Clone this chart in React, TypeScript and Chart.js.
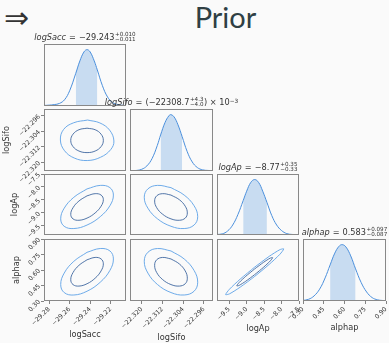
import React, { useEffect, useRef } from "react";
import { Chart, registerables } from "chart.js";

Chart.register(...registerables);

// ---------------- data ----------------
const PARAMS = ["logSacc", "logSifo", "logAp", "alphap"];
const RANGE_MIN = [-29.285, -22.3245, -9.85, 0.3];
const RANGE_MAX = [-29.205, -22.2925, -7.5, 0.9];

const TICK_VALUES = [
  [-29.28, -29.26, -29.24, -29.22],
  [-22.32, -22.312, -22.304, -22.296],
  [-9.5, -9.0, -8.5, -8.0, -7.5],
  [0.3, 0.45, 0.6, 0.75, 0.9],
];
const TICK_LABELS = [
  ["−29.28", "−29.26", "−29.24", "−29.22"],
  ["−22.320", "−22.312", "−22.304", "−22.296"],
  ["−9.5", "−9.0", "−8.5", "−8.0", "−7.5"],
  ["0.30", "0.45", "0.60", "0.75", "0.90"],
];

// 1D marginal curves (relative density, peak = 1)
const CURVE_X_SACC = [-29.285, -29.28, -29.275, -29.27, -29.265, -29.26, -29.254, -29.25, -29.246, -29.243, -29.24, -29.236, -29.233, -29.228, -29.223, -29.218, -29.213, -29.208, -29.205];
const CURVE_Y_SACC = [0.01, 0.015, 0.025, 0.045, 0.11, 0.27, 0.58, 0.8, 0.96, 1.0, 0.96, 0.8, 0.64, 0.36, 0.16, 0.06, 0.025, 0.012, 0.008];
const CURVE_X_SIFO = [-22.3245, -22.322, -22.32, -22.318, -22.316, -22.314, -22.3127, -22.311, -22.3095, -22.3087, -22.3075, -22.306, -22.3044, -22.3025, -22.3005, -22.2985, -22.2965, -22.2945, -22.2925];
const CURVE_Y_SIFO = [0.005, 0.01, 0.03, 0.09, 0.22, 0.45, 0.64, 0.86, 0.98, 1.0, 0.96, 0.82, 0.61, 0.35, 0.16, 0.06, 0.02, 0.01, 0.005];
const CURVE_X_AP = [-9.85, -9.7, -9.55, -9.4, -9.25, -9.1, -9.0, -8.88, -8.77, -8.66, -8.54, -8.42, -8.28, -8.14, -8.0, -7.85, -7.7, -7.5];
const CURVE_Y_AP = [0.01, 0.02, 0.07, 0.18, 0.37, 0.62, 0.79, 0.95, 1.0, 0.95, 0.79, 0.59, 0.35, 0.18, 0.08, 0.025, 0.01, 0.005];
const CURVE_X_ALPHA = [0.3, 0.34, 0.38, 0.42, 0.46, 0.496, 0.53, 0.56, 0.583, 0.61, 0.645, 0.68, 0.72, 0.76, 0.8, 0.84, 0.87, 0.9];
const CURVE_Y_ALPHA = [0.01, 0.03, 0.09, 0.21, 0.41, 0.64, 0.85, 0.97, 1.0, 0.96, 0.8, 0.57, 0.33, 0.16, 0.06, 0.02, 0.01, 0.005];

const CURVE_X = [CURVE_X_SACC, CURVE_X_SIFO, CURVE_X_AP, CURVE_X_ALPHA];
const CURVE_Y = [CURVE_Y_SACC, CURVE_Y_SIFO, CURVE_Y_AP, CURVE_Y_ALPHA];

// 16% / 84% quantiles
const Q_LO = [-29.254, -22.3127, -9.1, 0.496];
const Q_HI = [-29.233, -22.3044, -8.42, 0.68];

// titles
const TITLE_PRE = ["−", "(−", "−", ""];
const TITLE_MED = ["29.243", "22308.7", "8.77", "0.583"];
const TITLE_PLUS = ["+0.010", "+4.3", "+0.35", "+0.097"];
const TITLE_MINUS = ["−0.011", "−4.0", "−0.33", "−0.087"];
const TITLE_POST = ["", ") × 10", "", ""];
const TITLE_EXP = ["", "−3", "", ""];

// 2D contours [x, y]
const C_SIFO_SACC_INNER = [[-29.243, -22.3024], [-29.2509, -22.3032], [-29.2567, -22.3055], [-29.2589, -22.3087], [-29.2567, -22.3119], [-29.2509, -22.3142], [-29.243, -22.315], [-29.2351, -22.3142], [-29.2293, -22.3119], [-29.2271, -22.3087], [-29.2293, -22.3055], [-29.2351, -22.3032], [-29.243, -22.3024]];
const C_SIFO_SACC_OUTER = [[-29.2425, -22.2982], [-29.256, -22.2996], [-29.2658, -22.303], [-29.269, -22.3085], [-29.265, -22.314], [-29.2555, -22.3178], [-29.2428, -22.3191], [-29.2298, -22.3174], [-29.22, -22.3135], [-29.2168, -22.309], [-29.221, -22.3034], [-29.2305, -22.2997], [-29.2425, -22.2982]];

const C_AP_SACC_INNER = [[-29.243, -8.3413], [-29.2509, -8.5402], [-29.2567, -8.7999], [-29.2589, -9.0525], [-29.2567, -9.229], [-29.2509, -9.2824], [-29.243, -9.1987], [-29.2351, -8.9998], [-29.2293, -8.7401], [-29.2271, -8.4875], [-29.2293, -8.311], [-29.2351, -8.2576], [-29.243, -8.3413]];
const C_AP_SACC_OUTER = [[-29.243, -8.074], [-29.2559, -8.397], [-29.2653, -8.818], [-29.2687, -9.228], [-29.2653, -9.515], [-29.2559, -9.601], [-29.243, -9.466], [-29.2301, -9.143], [-29.2207, -8.722], [-29.2173, -8.312], [-29.2207, -8.025], [-29.2301, -7.939], [-29.243, -8.074]];

const C_ALPHA_SACC_INNER = [[-29.243, 0.699], [-29.2509, 0.6452], [-29.2567, 0.5749], [-29.2589, 0.5065], [-29.2567, 0.4588], [-29.2509, 0.4444], [-29.243, 0.467], [-29.2351, 0.5208], [-29.2293, 0.5911], [-29.2271, 0.6595], [-29.2293, 0.7072], [-29.2351, 0.7216], [-29.243, 0.699]];
const C_ALPHA_SACC_OUTER = [[-29.243, 0.7712], [-29.2559, 0.684], [-29.2653, 0.5699], [-29.2687, 0.459], [-29.2653, 0.3815], [-29.2559, 0.358], [-29.243, 0.3948], [-29.2301, 0.482], [-29.2207, 0.5961], [-29.2173, 0.707], [-29.2207, 0.7845], [-29.2301, 0.808], [-29.243, 0.7712]];

const C_AP_SIFO_INNER = [[-22.3087, -8.3117], [-22.3119, -8.2576], [-22.3142, -8.3406], [-22.315, -8.539], [-22.3142, -8.799], [-22.3119, -9.0514], [-22.3087, -9.2283], [-22.3055, -9.2824], [-22.3032, -9.1994], [-22.3024, -9.001], [-22.3032, -8.741], [-22.3055, -8.4886], [-22.3087, -8.3117]];
const C_AP_SIFO_OUTER = [[-22.3087, -8.0261], [-22.3139, -7.9387], [-22.3176, -8.0733], [-22.319, -8.3951], [-22.3176, -8.8171], [-22.3139, -9.2265], [-22.3087, -9.5139], [-22.3036, -9.6013], [-22.2998, -9.4667], [-22.2984, -9.1449], [-22.2998, -8.7229], [-22.3036, -8.3135], [-22.3087, -8.0261]];

const C_ALPHA_SIFO_INNER = [[-22.3087, 0.707], [-22.3119, 0.7216], [-22.3142, 0.6992], [-22.315, 0.6455], [-22.3142, 0.5752], [-22.3119, 0.5069], [-22.3087, 0.459], [-22.3055, 0.4444], [-22.3032, 0.4668], [-22.3024, 0.5205], [-22.3032, 0.5908], [-22.3055, 0.6591], [-22.3087, 0.707]];
const C_ALPHA_SIFO_OUTER = [[-22.3087, 0.7843], [-22.3139, 0.8079], [-22.3176, 0.7715], [-22.319, 0.6844], [-22.3176, 0.5703], [-22.3139, 0.4595], [-22.3087, 0.3817], [-22.3036, 0.3581], [-22.2998, 0.3945], [-22.2984, 0.4816], [-22.2998, 0.5957], [-22.3036, 0.7065], [-22.3087, 0.7843]];

const C_ALPHA_AP_INNER = [[-8.77, 0.6106], [-9.0267, 0.5388], [-9.2147, 0.4789], [-9.2834, 0.4468], [-9.2147, 0.4513], [-9.0267, 0.491], [-8.77, 0.5554], [-8.5133, 0.6272], [-8.3253, 0.6871], [-8.2566, 0.7192], [-8.3253, 0.7147], [-8.5133, 0.675], [-8.77, 0.6106]];
const C_ALPHA_AP_OUTER = [[-8.77, 0.6279], [-9.1865, 0.5113], [-9.4915, 0.4142], [-9.603, 0.3621], [-9.4915, 0.3693], [-9.1865, 0.4338], [-8.77, 0.5381], [-8.3535, 0.6547], [-8.0485, 0.7518], [-7.937, 0.8039], [-8.0485, 0.7967], [-8.3535, 0.7322], [-8.77, 0.6279]];

const CONTOURS: Record<string, number[][][]> = {
  "10": [C_SIFO_SACC_INNER, C_SIFO_SACC_OUTER],
  "20": [C_AP_SACC_INNER, C_AP_SACC_OUTER],
  "30": [C_ALPHA_SACC_INNER, C_ALPHA_SACC_OUTER],
  "21": [C_AP_SIFO_INNER, C_AP_SIFO_OUTER],
  "31": [C_ALPHA_SIFO_INNER, C_ALPHA_SIFO_OUTER],
  "32": [C_ALPHA_AP_INNER, C_ALPHA_AP_OUTER],
};

// ---------------- layout / style ----------------
const W = 389;
const H = 343;
const COL_LEFT = [44, 130, 217, 303];
const COL_RIGHT = [126, 213, 299, 386];
const ROW_TOP = [44, 109, 174, 239];
const ROW_BOTTOM = [106, 171, 235, 301];
const X_TITLE_PAD = [3, 0, 9.5, 10];
const Y_TITLE_PAD = [0, 1.8, 9.6, 11.6];
const FONT = "'DejaVu Sans', sans-serif";
const LINE_COLOR = "#4a8fdc";
const INNER_COLOR = "#3e679f";
const OUTER_COLOR = "#5ea2e6";
const SHADE_COLOR = "#c8dcf1";
const TEXT_COLOR = "#333";
const FRAME_COLOR = "#888";

const PANELS: [number, number][] = [];
for (let i = 0; i < 4; i++) for (let j = 0; j <= i; j++) PANELS.push([i, j]);

const framePlugin = {
  id: "frame",
  afterDraw(chart: any) {
    const { ctx, chartArea } = chart;
    const l = Math.round(chartArea.left);
    const t = Math.round(chartArea.top);
    const r = Math.round(chartArea.right);
    const b = Math.round(chartArea.bottom);
    ctx.save();
    ctx.strokeStyle = FRAME_COLOR;
    ctx.lineWidth = 1;
    ctx.strokeRect(l + 0.5, t + 0.5, r - l - 1, b - t - 1);
    ctx.restore();
  },
};

function axisExtras(k: number, horizontal: boolean, size: number, titlePad: number) {
  return {
    display: true,
    afterBuildTicks: (ax: any) => {
      ax.ticks = TICK_VALUES[k].map((v) => ({ value: v }));
    },
    afterFit: (ax: any) => {
      if (horizontal) ax.height = size;
      else ax.width = size;
      ax.paddingLeft = 0;
      ax.paddingRight = 0;
      ax.paddingTop = 0;
      ax.paddingBottom = 0;
    },
    ticks: {
      autoSkip: false,
      minRotation: 45,
      maxRotation: 45,
      padding: 1.5,
      color: TEXT_COLOR,
      font: { family: FONT, size: 6.3 },
      callback: (_v: any, idx: number) => TICK_LABELS[k][idx],
    },
    grid: { drawOnChartArea: false, drawTicks: true, tickLength: 3, color: "#666", lineWidth: 0.8 },
    border: { display: false },
    title: {
      display: true,
      text: PARAMS[k],
      color: TEXT_COLOR,
      font: { family: FONT, size: 8.2 },
      padding: horizontal ? { top: 0, bottom: titlePad } : { top: titlePad, bottom: 0 },
    },
  };
}

function buildConfig(i: number, j: number): any {
  const diag = i === j;
  const showX = i === 3;
  const showY = j === 0 && !diag;
  const L = COL_LEFT[j];
  const R = COL_RIGHT[j];
  const T = ROW_TOP[i];
  const B = ROW_BOTTOM[i];
  const datasets: any[] = [];
  if (diag) {
    const pts = CURVE_X[i].map((x, k) => ({ x, y: CURVE_Y[i][k] }));
    datasets.push({ data: pts, borderColor: LINE_COLOR, borderWidth: 1, pointRadius: 0, tension: 0.4, fill: false });
    const shade = pts.filter((p) => p.x >= Q_LO[i] - 1e-9 && p.x <= Q_HI[i] + 1e-9);
    datasets.push({ data: shade, borderWidth: 0, borderColor: "rgba(0,0,0,0)", pointRadius: 0, tension: 0.4, fill: "origin", backgroundColor: SHADE_COLOR });
  } else {
    const [inner, outer] = CONTOURS[`${i}${j}`];
    const tension = i === 3 && j === 2 ? 0.25 : 0.4;
    datasets.push({ data: inner.map(([x, y]) => ({ x, y })), borderColor: INNER_COLOR, borderWidth: 0.9, pointRadius: 0, tension, fill: false });
    datasets.push({ data: outer.map(([x, y]) => ({ x, y })), borderColor: OUTER_COLOR, borderWidth: 0.9, pointRadius: 0, tension, fill: false });
  }
  let xScale: any = { type: "linear", position: "bottom", min: RANGE_MIN[j], max: RANGE_MAX[j], bounds: "data", display: false };
  if (showX) xScale = { ...xScale, ...axisExtras(j, true, H - B, X_TITLE_PAD[j]) };
  let yScale: any = diag
    ? { type: "linear", position: "left", min: 0, max: 1.1, display: false }
    : { type: "linear", position: "left", min: RANGE_MIN[i], max: RANGE_MAX[i], bounds: "data", display: false };
  if (showY) yScale = { ...yScale, ...axisExtras(i, false, L, Y_TITLE_PAD[i]) };
  return {
    type: "line",
    data: { datasets },
    options: {
      animation: false,
      responsive: false,
      devicePixelRatio: 1,
      events: [],
      layout: { padding: { left: showY ? 0 : L, right: W - R, top: T, bottom: showX ? 0 : H - B } },
      plugins: { legend: { display: false }, tooltip: { enabled: false }, title: { display: false } },
      scales: { x: xScale, y: yScale },
    },
    plugins: [framePlugin],
  };
}

function DiagTitle({ k }: { k: number }) {
  const cx = (COL_LEFT[k] + COL_RIGHT[k]) / 2;
  return (
    <div
      style={{
        position: "absolute",
        left: cx,
        bottom: H - ROW_TOP[k] + 1,
        transform: "translateX(-50%)",
        whiteSpace: "nowrap",
        fontFamily: FONT,
        fontSize: 8.2,
        lineHeight: "10px",
        color: TEXT_COLOR,
        display: "flex",
        alignItems: "center",
      }}
    >
      <i>{PARAMS[k]}</i>
      <span style={{ padding: "0 3px" }}>=</span>
      <span>
        {TITLE_PRE[k]}
        {TITLE_MED[k]}
      </span>
      <span style={{ display: "inline-flex", flexDirection: "column", fontSize: 5.6, lineHeight: "5.6px", marginLeft: 0.5 }}>
        <span>{TITLE_PLUS[k]}</span>
        <span>{TITLE_MINUS[k]}</span>
      </span>
      {TITLE_POST[k] && <span style={{ marginLeft: 0.5 }}>{TITLE_POST[k]}</span>}
      {TITLE_EXP[k] && <span style={{ fontSize: 5.8, alignSelf: "flex-start", marginTop: -1 }}>{TITLE_EXP[k]}</span>}
    </div>
  );
}

export default function App() {
  const refs = useRef<(HTMLCanvasElement | null)[]>([]);
  useEffect(() => {
    const charts = PANELS.map(([i, j], k) => {
      const c = refs.current[k];
      return c ? new Chart(c, buildConfig(i, j)) : null;
    });
    return () => charts.forEach((c) => c && c.destroy());
  }, []);
  return (
    <div style={{ position: "absolute", left: 0, top: 0, width: W, height: H, background: "#fafafa", overflow: "hidden" }}>
      <div style={{ position: "absolute", left: 4, top: 2.6, fontFamily: FONT, fontSize: 30, lineHeight: "30px", color: "#333" }}>⇒</div>
      <div
        style={{
          position: "absolute",
          left: 225.5,
          top: 2.3,
          transform: "translateX(-50%)",
          fontFamily: "Lato, 'Open Sans', sans-serif",
          fontSize: 29,
          lineHeight: "29px",
          color: "#2f3f44",
        }}
      >
        Prior
      </div>
      {PANELS.map((_, k) => (
        <canvas
          key={k}
          ref={(el) => {
            refs.current[k] = el;
          }}
          width={W}
          height={H}
          style={{ position: "absolute", left: 0, top: 0, width: W, height: H, pointerEvents: "none" }}
        />
      ))}
      {[0, 1, 2, 3].map((k) => (
        <DiagTitle key={k} k={k} />
      ))}
    </div>
  );
}
